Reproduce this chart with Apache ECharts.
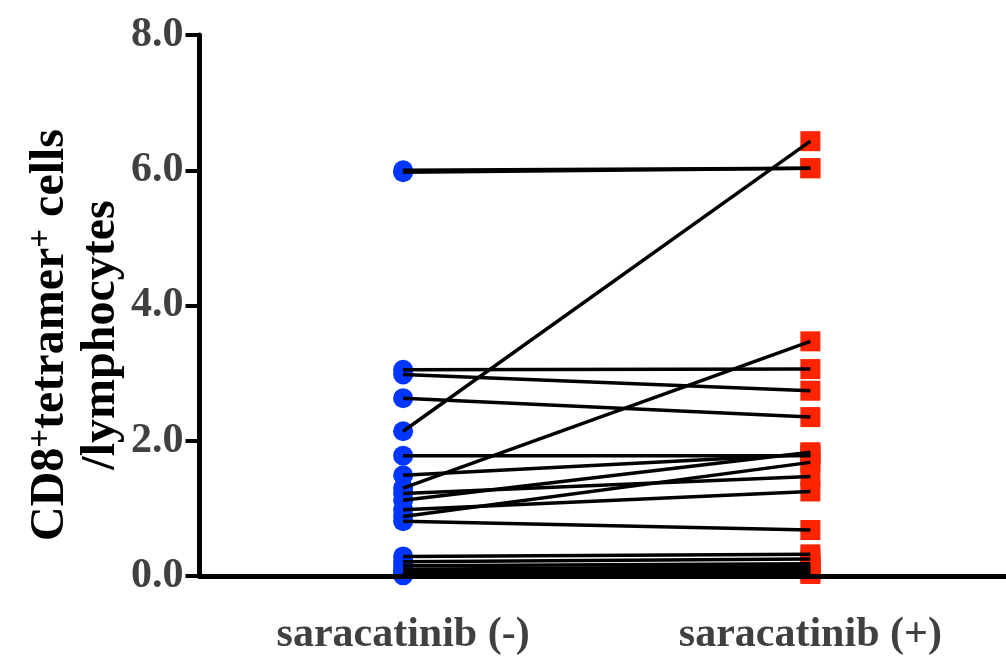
<!DOCTYPE html>
<html>
<head>
<meta charset="utf-8">
<script src="https://cdn.jsdelivr.net/npm/echarts@6/dist/echarts.min.js"></script>
<style>
html,body{margin:0;padding:0;background:#fff;overflow:hidden;width:1006px;height:658px;}
#c{width:1014px;height:658px;}
</style>
</head>
<body>
<div id="c"></div>
<script>
const categories = ['saracatinib (-)', 'saracatinib (+)'];
const yTicks = [0, 2, 4, 6, 8];
const before = [5.97, 6.00, 2.14, 1.30, 3.05, 2.98, 2.63, 1.78, 1.49, 1.22, 1.12, 0.98, 0.88, 0.81, 0.29, 0.21, 0.15, 0.10, 0.07, 0.04, 0.02, 0.01];
const after  = [6.03, 6.03, 6.43, 3.47, 3.06, 2.74, 2.35, 1.78, 1.80, 1.47, 1.83, 1.25, 1.68, 0.68, 0.32, 0.25, 0.18, 0.14, 0.10, 0.06, 0.03, 0.12];

const FONT = '"Liberation Serif", "Times New Roman", serif';
const series = [];
series.push({
  type: 'scatter', symbol: 'circle', symbolSize: 20, z: 2,
  itemStyle: {color: '#0036ff', opacity: 1},
  data: before.map(v => [0, v])
});
series.push({
  type: 'scatter', symbol: 'rect', symbolSize: 20, z: 2,
  itemStyle: {color: '#ff2400', opacity: 1},
  data: after.map(v => [1, v])
});
before.forEach((b, i) => {
  series.push({
    type: 'line', symbol: 'none', z: 4, silent: true,
    lineStyle: {color: '#000', width: 3.5},
    data: [[0, b], [1, after[i]]]
  });
});

const chart = echarts.init(document.getElementById('c'));
chart.setOption({
  animation: false,
  grid: {left: 199.5, top: 35, right: 0, bottom: 82, containLabel: false},
  xAxis: {
    type: 'category', data: categories, boundaryGap: true, z: 5,
    axisLine: {lineStyle: {color: '#000', width: 5}},
    axisTick: {alignWithLabel: true, length: 9, lineStyle: {color: '#000', width: 4}},
    axisLabel: {color: '#404040', fontFamily: FONT, fontWeight: 'bold', fontSize: 42, margin: 38}
  },
  yAxis: {
    type: 'value', min: 0, max: 8, interval: 2, z: 5,
    splitLine: {show: false},
    axisLine: {show: true, lineStyle: {color: '#000', width: 5}},
    axisTick: {show: true, length: 14, lineStyle: {color: '#000', width: 4}},
    axisLabel: {color: '#404040', fontFamily: FONT, fontWeight: 'bold', fontSize: 42, margin: 16,
      formatter: v => yTicks.includes(v) ? v.toFixed(1) : ''}
  },
  graphic: [{
    type: 'text', x: 76, y: 335, rotation: Math.PI / 2,
    style: {
      x: 0, y: 0, align: 'center', verticalAlign: 'middle',
      text: '{m|CD8}{s|+}{m|tetramer}{s|+}{m| cells}\n{m|/lymphocytes}',
      rich: {
        m: {fontFamily: FONT, fontWeight: 'bold', fontSize: 48, lineHeight: 51, fill: '#000'},
        s: {fontFamily: FONT, fontWeight: 'bold', fontSize: 33, lineHeight: 51, verticalAlign: 'top', fill: '#000'}
      }
    }
  }],
  series: series
});
</script>
</body>
</html>
